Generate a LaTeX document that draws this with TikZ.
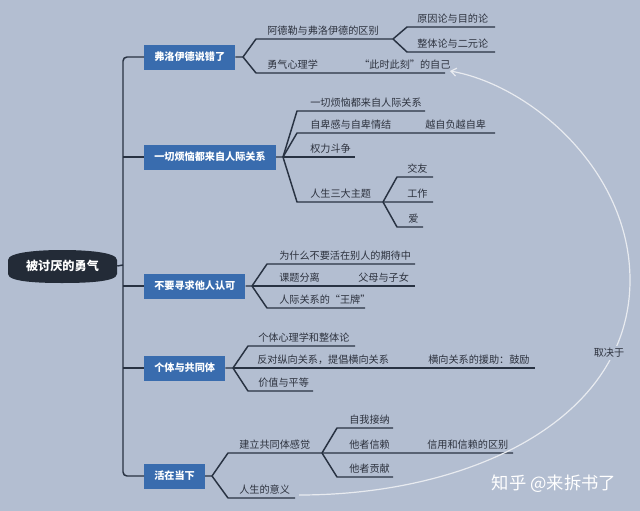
\documentclass[tikz,border=0pt]{standalone}
\usepackage{fontspec}
\setmainfont{Noto Sans CJK SC}
\usetikzlibrary{arrows.meta}
\definecolor{bgcol}{RGB}{179,190,209}
\definecolor{boxcol}{RGB}{57,108,174}
\definecolor{linecol}{RGB}{40,50,66}
\definecolor{rootcol}{RGB}{35,43,55}
\definecolor{leafcol}{RGB}{45,50,62}
\definecolor{arccol}{RGB}{232,235,240}

\begin{document}
\begin{tikzpicture}[x=0.75pt,y=0.75pt,yscale=-1,xscale=1,
  link/.style={draw=linecol,line width=1.1pt,line join=round},
  topic/.style={fill=boxcol,text=white,font=\bfseries\fontsize{7.6}{9}\selectfont,inner xsep=7.5pt,inner ysep=0pt,minimum height=18.75pt,anchor=west},
  leaf/.style={text=leafcol,font=\fontsize{7.6}{9}\selectfont,inner sep=0pt,anchor=base west},
  backarc/.style={draw=arccol,line width=0.9pt,-{Straight Barb[length=4pt,width=6pt]}}]
%set diagram size 640x511
\useasboundingbox (0,0) rectangle (640,511);
\fill[bgcol] (0,0) rectangle (640,511);

%Shape: Root
\fill[rootcol] (8,260) .. controls (8,252) and (40,250) .. (62,250) .. controls (85,250) and (117,252) .. (117,260) -- (117,274) .. controls (117,282) and (85,283) .. (62,283) .. controls (40,283) and (8,282) .. (8,274) -- cycle ;
\node[text=white,font=\bfseries\fontsize{9.1}{11}\selectfont,minimum width=81.75pt,minimum height=24pt,inner sep=0pt] (root) at (62.5,266) {被讨厌的勇气};

%Main topics
\node[topic] (freud) at (144,57) {弗洛伊德说错了};
\node[topic] (worry) at (144,157) {一切烦恼都来自人际关系};
\node[topic] (approval) at (144,286) {不要寻求他人认可};
\node[topic] (group) at (144,368) {个体与共同体};
\node[topic] (present) at (144,476) {活在当下};

%Straight Lines: trunk
\coordinate (trunk) at (123,265);
\draw[link] (root.east) -- (trunk) ;
\draw[link,rounded corners=3pt] (freud.west) -- (freud.west -| trunk) -- (present.west -| trunk) -- (present.west) ;
\draw[link] (worry.west -| trunk) -- (worry.west) ;
\draw[link] (approval.west -| trunk) -- (approval.west) ;
\draw[link] (group.west -| trunk) -- (group.west) ;

%Straight Lines: 弗洛伊德说错了
\draw[link] (freud.east) -- (243,57) coordinate (k1) -- (256,39) -- (393,39) coordinate (k11) ;
\draw[link] (k1) -- (256,73) -- (445,73) coordinate (nowend) ;
\draw[link] (k11) -- (407,27) -- (495,27) ;
\draw[link] (k11) -- (407,52) -- (495,52) ;
\node[leaf] (adler) at (267,34) {阿德勒与弗洛伊德的区别};
\node[leaf] (cause) at (417,22) {原因论与目的论};
\node[leaf] (whole) at (417,47) {整体论与二元论};
\node[leaf] (courage) at (267,68) {勇气心理学};
\node[leaf] (nowself) at (359,68) {“此时此刻”的自己};

%Straight Lines: 一切烦恼都来自人际关系
\draw[link] (worry.east) -- (283,157) coordinate (k2) -- (297,111) -- (425,111) ;
\draw[link] (k2) -- (297,133) -- (495,133) ;
\draw[link] (k2) -- (355,157) ;
\draw[link] (k2) -- (297,202) -- (383,202) coordinate (k21) -- (433,202) ;
\draw[link] (k21) -- (397,177) -- (433,177) ;
\draw[link] (k21) -- (397,227) -- (423,227) ;
\node[leaf] (trouble) at (310,106) {一切烦恼都来自人际关系};
\node[leaf] (inferior) at (310,128) {自卑感与自卑情结};
\node[leaf] (conceit) at (425,128) {越自负越自卑};
\node[leaf] (power) at (310,152) {权力斗争};
\node[leaf] (tasks) at (310,197) {人生三大主题};
\node[leaf] (friend) at (407,172) {交友};
\node[leaf] (work) at (407,197) {工作};
\node[leaf] (love) at (408,222) {爱};

%Straight Lines: 不要寻求他人认可
\draw[link] (approval.east) -- (252,286) coordinate (k3) -- (267,264) -- (415,264) ;
\draw[link] (k3) -- (415,286) ;
\draw[link] (k3) -- (267,308) -- (365,308) ;
\node[leaf] (why) at (279,259) {为什么不要活在别人的期待中};
\node[leaf] (separate) at (279,281) {课题分离};
\node[leaf] (parents) at (358,281) {父母与子女};
\node[leaf] (trump) at (279,303) {人际关系的“王牌”};

%Straight Lines: 个体与共同体
\draw[link] (group.east) -- (233,368) coordinate (k4) -- (248,346) -- (355,346) ;
\draw[link] (k4) -- (535,368) ;
\draw[link] (k4) -- (248,391) -- (313,391) ;
\node[leaf] (indiv) at (258,341) {个体心理学和整体论};
\node[leaf] (oppose) at (257,363) {反对纵向关系，提倡横向关系};
\node[leaf] (encourage) at (428,363) {横向关系的援助：鼓励};
\node[leaf] (equal) at (258,386) {价值与平等};

%Straight Lines: 活在当下
\draw[link] (present.east) -- (212,476) coordinate (k5) -- (228,453) -- (322,453) coordinate (k51) -- (513,453) ;
\draw[link] (k51) -- (337,428) -- (393,428) ;
\draw[link] (k51) -- (337,477) -- (393,477) ;
\draw[link] (k5) -- (228,498) -- (295,498) coordinate (meaningend) ;
\node[leaf] (community) at (239,448) {建立共同体感觉};
\node[leaf] (accept) at (349,423) {自我接纳};
\node[leaf] (trust) at (349,448) {他者信赖};
\node[leaf] (credit) at (427,448) {信用和信赖的区别};
\node[leaf] (contrib) at (349,472) {他者贡献};
\node[leaf] (meaning) at (239,493) {人生的意义};

%Curve Lines: 取决于
\coordinate (arcstart) at (299,495);
\coordinate (arcend) at (450,71);
\draw[backarc] (arcstart) .. controls (470,495) and (630,420) .. (630,280) .. controls (630,170) and (530,85) .. (arcend) ;
\node[fill=bgcol,text=leafcol,font=\fontsize{7.6}{9}\selectfont,inner sep=1.5pt] (depends) at (609,353) {取决于};

%Watermark
\node[text=white,font=\fontsize{13}{15}\selectfont,inner sep=0pt] (mark) at (554,484) {知乎 @来拆书了};

\end{tikzpicture}
\end{document}
